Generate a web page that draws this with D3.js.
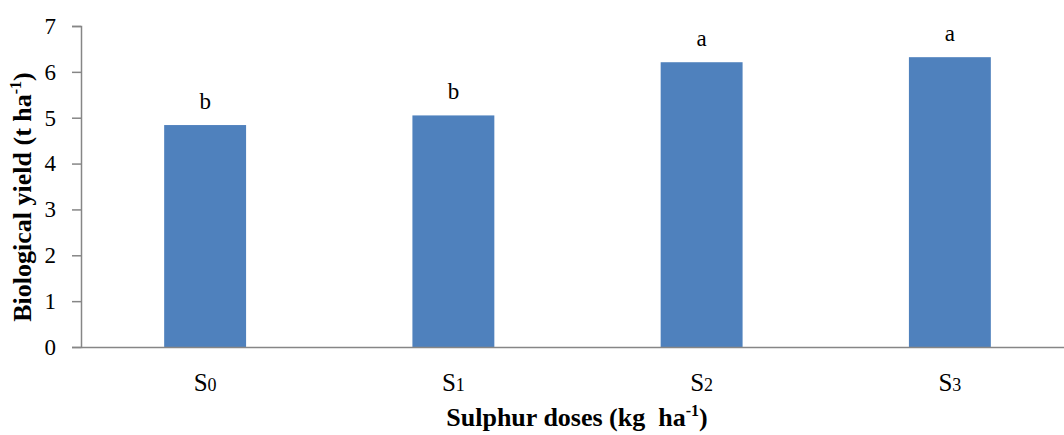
<!DOCTYPE html>
<html>
<head>
<meta charset="utf-8">
<script src="https://cdn.jsdelivr.net/npm/d3@7"></script>
<style>
  html, body { margin: 0; padding: 0; background: #fff; }
  svg { display: block; }
</style>
</head>
<body>
<svg id="chart" width="1064" height="435"></svg>
<script>
// Sulphur dose treatments and their biological yield (t/ha)
const doses = ["0", "1", "2", "3"];
const yieldValues = [4.84, 5.05, 6.21, 6.32];
const groupLetters = ["b", "b", "a", "a"];
const yTicks = [0, 1, 2, 3, 4, 5, 6, 7];

const svg = d3.select("#chart");
const axisColor = "#868686";
const barColor = "#4f81bd";
const serif = "'Liberation Serif', 'Times New Roman', serif";

const x = d3.scaleBand()
  .domain(doses)
  .range([81, 1074])
  .paddingInner(0.67)
  .paddingOuter(0.335);

const y = d3.scaleLinear()
  .domain([0, 7])
  .range([347, 26]);

// Y axis
const yAxis = svg.append("g")
  .attr("transform", "translate(81,0)")
  .call(d3.axisLeft(y).tickValues(yTicks).tickSize(9).tickPadding(16).tickFormat(d3.format("d")));
yAxis.select(".domain").attr("stroke", axisColor).attr("stroke-width", 1.5);
yAxis.selectAll(".tick line").attr("stroke", axisColor).attr("stroke-width", 1.5);
yAxis.selectAll(".tick text")
  .attr("font-family", serif)
  .attr("font-size", 23)
  .attr("fill", "#000");

// Bars
svg.append("g").selectAll("rect")
  .data(yieldValues)
  .join("rect")
  .attr("x", (d, i) => x(doses[i]))
  .attr("y", d => y(d))
  .attr("width", x.bandwidth())
  .attr("height", d => y(0) - y(d))
  .attr("fill", barColor);

// Significance letters above bars
svg.append("g").selectAll("text")
  .data(yieldValues)
  .join("text")
  .attr("x", (d, i) => x(doses[i]) + x.bandwidth() / 2)
  .attr("y", d => y(d) - 16)
  .attr("text-anchor", "middle")
  .attr("font-family", serif)
  .attr("font-size", 23)
  .attr("fill", "#000")
  .text((d, i) => groupLetters[i]);

// X axis baseline
const xAxis = svg.append("g")
  .attr("transform", `translate(0,${y(0)})`)
  .call(d3.axisBottom(x).tickSize(0).tickPadding(0).tickFormat(""));
xAxis.select(".domain").attr("stroke", axisColor).attr("stroke-width", 1.5);

// Category labels: S with an old-style looking digit
const catLabels = svg.append("g").selectAll("text")
  .data(doses)
  .join("text")
  .attr("x", d => x(d) + x.bandwidth() / 2)
  .attr("y", 391)
  .attr("text-anchor", "middle")
  .attr("font-family", serif)
  .attr("font-size", 25)
  .attr("fill", "#000");
catLabels.append("tspan").text("S");
catLabels.append("tspan").attr("font-size", 18).text(d => d);

// Y axis title
const yTitle = svg.append("text")
  .attr("transform", "translate(31,197) rotate(-90)")
  .attr("text-anchor", "middle")
  .attr("font-family", serif)
  .attr("font-weight", "bold")
  .attr("font-size", 26)
  .attr("fill", "#000");
yTitle.append("tspan").text("Biological yield (t ha");
yTitle.append("tspan").attr("font-size", 16).attr("dy", -10).text("-1");
yTitle.append("tspan").attr("dy", 10).text(")");

// X axis title
const xTitle = svg.append("text")
  .attr("x", 577)
  .attr("y", 426)
  .attr("text-anchor", "middle")
  .attr("font-family", serif)
  .attr("font-weight", "bold")
  .attr("font-size", 26)
  .attr("fill", "#000")
  .attr("xml:space", "preserve");
xTitle.append("tspan").text("Sulphur doses (kg  ha");
xTitle.append("tspan").attr("font-size", 16).attr("dy", -10).text("-1");
xTitle.append("tspan").attr("dy", 10).text(")");
</script>
</body>
</html>
